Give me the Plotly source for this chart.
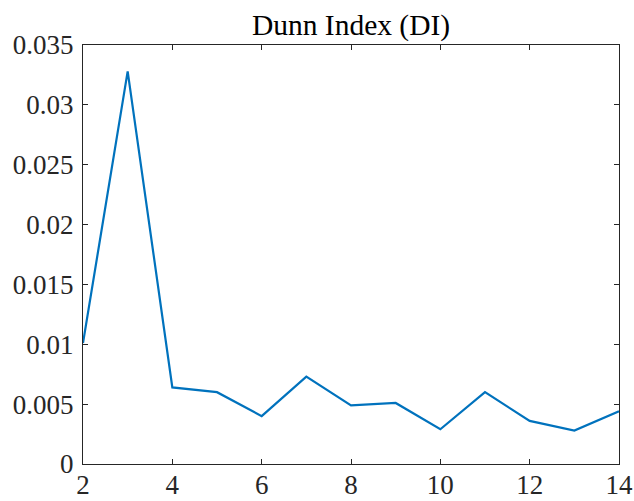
import plotly.graph_objects as go

# Number of clusters and the Dunn Index computed for each
clusters = [2, 3, 4, 5, 6, 7, 8, 9, 10, 11, 12, 13, 14]
dunn_index = [0.0101, 0.0328, 0.0064, 0.0060, 0.0040, 0.0073, 0.0049,
              0.0051, 0.0029, 0.0060, 0.0036, 0.0028, 0.0044]

x_ticks = [2, 4, 6, 8, 10, 12, 14]
y_ticks = [0, 0.005, 0.01, 0.015, 0.02, 0.025, 0.03, 0.035]
y_tick_labels = ["0", "0.005", "0.01", "0.015", "0.02", "0.025", "0.03", "0.035"]

FONT = "Liberation Serif, Times New Roman, serif"
AXIS_COLOR = "#262626"

fig = go.Figure()
fig.add_trace(go.Scatter(
    x=clusters, y=dunn_index, mode="lines",
    line=dict(color="#0072BD", width=2.2),
    showlegend=False,
))

axis_common = dict(
    showgrid=False, zeroline=False,
    showline=True, linecolor=AXIS_COLOR, linewidth=1,
    mirror="ticks", ticks="inside", ticklen=5, tickwidth=1, tickcolor=AXIS_COLOR,
    tickfont=dict(family=FONT, size=27, color=AXIS_COLOR),
)

fig.update_xaxes(range=[2, 14], tickvals=x_ticks, ticklabelstandoff=-3,
                 **axis_common)
fig.update_yaxes(range=[0, 0.035], tickvals=y_ticks, ticktext=y_tick_labels,
                 ticklabelstandoff=3, **axis_common)

fig.update_layout(
    width=634, height=501,
    margin=dict(l=83, r=15, t=45, b=37, autoexpand=False),
    paper_bgcolor="white", plot_bgcolor="white",
    title=dict(
        text="Dunn Index (DI)",
        font=dict(family=FONT, size=29.5, color="black"),
        x=0.5, xref="paper", xanchor="center",
        y=1, yref="paper", yanchor="bottom",
        pad=dict(b=10),
    ),
)

fig.write_html("out.html")
